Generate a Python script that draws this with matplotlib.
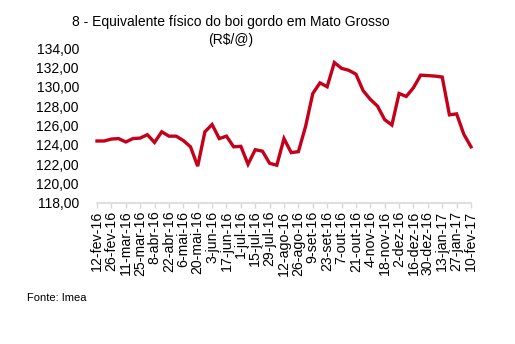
import matplotlib
matplotlib.use("Agg")
import matplotlib.pyplot as plt
from matplotlib.ticker import FuncFormatter
import numpy as np

plt.rcParams["font.family"] = ["Liberation Sans", "DejaVu Sans"]

# weekly prices, 12-fev-16 .. 10-fev-17 (R$/@)
prices = [
    124.4, 124.4, 124.6, 124.65, 124.3, 124.65, 124.7, 125.05, 124.25, 125.35,
    124.9, 124.9, 124.45, 123.8, 121.8, 125.35, 126.1, 124.65, 124.9, 123.8,
    123.85, 122.0, 123.5, 123.35, 122.1, 121.9, 124.65, 123.2, 123.3, 125.9,
    129.3, 130.4, 130.0, 132.5, 131.9, 131.7, 131.3, 129.6, 128.7, 128.0,
    126.6, 126.05, 129.3, 129.0, 129.9, 131.2, 131.15, 131.1, 131.0, 127.1,
    127.2, 125.1, 123.8,
]

# every second week is labelled
date_labels = [
    "12-fev-16", "26-fev-16", "11-mar-16", "25-mar-16", "8-abr-16", "22-abr-16",
    "6-mai-16", "20-mai-16", "3-jun-16", "17-jun-16", "1-jul-16", "15-jul-16",
    "29-jul-16", "12-ago-16", "26-ago-16", "9-set-16", "23-set-16", "7-out-16",
    "21-out-16", "4-nov-16", "18-nov-16", "2-dez-16", "16-dez-16", "30-dez-16",
    "13-jan-17", "27-jan-17", "10-fev-17",
]

y_ticks = [118, 120, 122, 124, 126, 128, 130, 132, 134]

fig = plt.figure(figsize=(5.15, 3.44), dpi=100)
ax = fig.add_axes([97 / 515, 141 / 344, 374 / 515, 155 / 344])

x = np.arange(len(prices))
ax.plot(x, prices, color="#c4001a", linewidth=2.4, solid_joinstyle="miter", clip_on=False)

ax.set_xlim(0, len(prices) - 1)
ax.set_ylim(y_ticks[0], y_ticks[-1])

for side in ["top", "right", "left"]:
    ax.spines[side].set_visible(False)
ax.spines["bottom"].set_color("#d9d9d9")
ax.spines["bottom"].set_linewidth(1.2)

ax.set_xticks(x[::2])
ax.set_xticklabels(date_labels, rotation=90, fontsize=10.2)
ax.tick_params(axis="x", direction="out", length=3.5, width=1.0, color="#d9d9d9", pad=2)

ax.set_yticks(y_ticks)
ax.yaxis.set_major_formatter(FuncFormatter(lambda v, p: f"{v:.2f}".replace(".", ",")))
ax.tick_params(axis="y", length=0, labelsize=10, pad=13)

fig.text(231 / 515, 1 - 22 / 344, "8 - Equivalente físico do boi gordo em Mato Grosso",
         ha="center", va="center", fontsize=10)
fig.text(231 / 515, 1 - 40 / 344, "(R$/@)", ha="center", va="center", fontsize=10)
fig.text(27 / 515, 1 - 298 / 344, "Fonte: Imea", ha="left", va="center", fontsize=8)

fig.savefig("out.png", dpi=100)
